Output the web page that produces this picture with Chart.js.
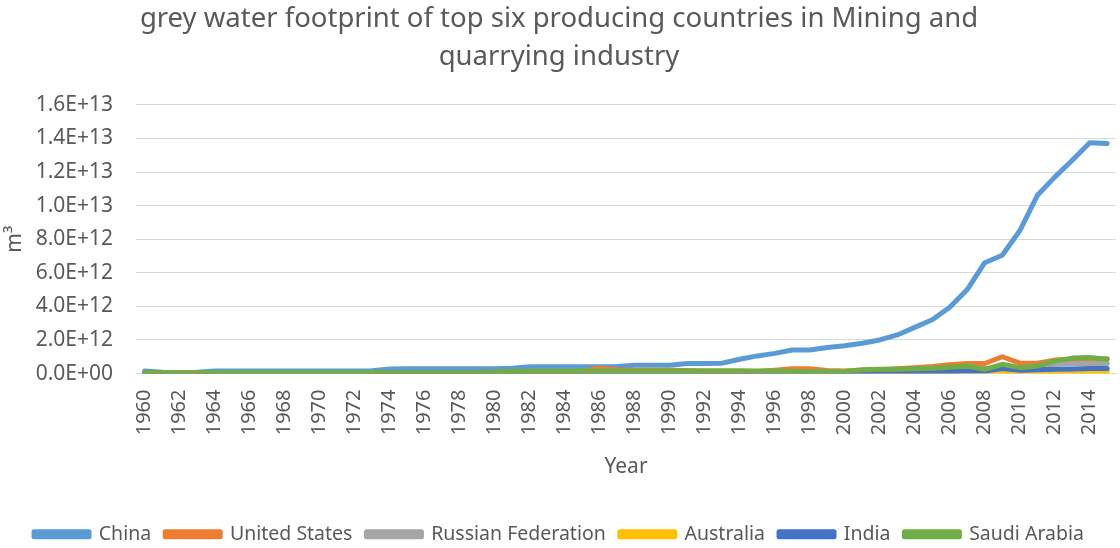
<!DOCTYPE html>
<html lang="en">
<head>
    <meta charset="UTF-8">
    <title>Grey water footprint - Mining and quarrying</title>
    <style>
        body {
            margin: 0;
            background: #fff;
        }
        #wrap {
            width: 1120px;
            height: 548px;
            position: relative;
        }
    </style>
</head>
<body>
    <div id="wrap">
        <canvas id="waterChart"></canvas>
    </div>
    <script src="https://cdn.jsdelivr.net/npm/chart.js"></script>
    <script>
        // years 1960 - 2015
        const years = [
            '1960','1961','1962','1963','1964','1965','1966','1967','1968','1969',
            '1970','1971','1972','1973','1974','1975','1976','1977','1978','1979',
            '1980','1981','1982','1983','1984','1985','1986','1987','1988','1989',
            '1990','1991','1992','1993','1994','1995','1996','1997','1998','1999',
            '2000','2001','2002','2003','2004','2005','2006','2007','2008','2009',
            '2010','2011','2012','2013','2014','2015'
        ];

        // grey water footprint, m3
        const china = [
            0.15e12, 0.08e12, 0.05e12, 0.08e12, 0.15e12, 0.15e12, 0.15e12, 0.15e12, 0.15e12, 0.15e12,
            0.15e12, 0.15e12, 0.15e12, 0.17e12, 0.27e12, 0.28e12, 0.28e12, 0.28e12, 0.28e12, 0.28e12,
            0.28e12, 0.32e12, 0.4e12, 0.4e12, 0.4e12, 0.4e12, 0.4e12, 0.42e12, 0.5e12, 0.5e12,
            0.5e12, 0.6e12, 0.6e12, 0.62e12, 0.85e12, 1.05e12, 1.2e12, 1.4e12, 1.4e12, 1.55e12,
            1.65e12, 1.8e12, 2.0e12, 2.3e12, 2.75e12, 3.2e12, 3.95e12, 5.0e12, 6.6e12, 7.05e12,
            8.5e12, 10.6e12, 11.7e12, 12.7e12, 13.75e12, 13.7e12
        ];
        const unitedStates = [
            0.05e12, 0.05e12, 0.05e12, 0.05e12, 0.05e12, 0.05e12, 0.05e12, 0.05e12, 0.05e12, 0.05e12,
            0.05e12, 0.05e12, 0.05e12, 0.05e12, 0.05e12, 0.05e12, 0.05e12, 0.05e12, 0.05e12, 0.05e12,
            0.08e12, 0.1e12, 0.1e12, 0.1e12, 0.12e12, 0.15e12, 0.32e12, 0.22e12, 0.2e12, 0.2e12,
            0.2e12, 0.18e12, 0.15e12, 0.15e12, 0.15e12, 0.12e12, 0.2e12, 0.28e12, 0.28e12, 0.18e12,
            0.15e12, 0.2e12, 0.22e12, 0.28e12, 0.35e12, 0.42e12, 0.52e12, 0.6e12, 0.6e12, 1.0e12,
            0.62e12, 0.62e12, 0.8e12, 0.85e12, 0.85e12, 0.88e12
        ];
        const russia = [
            0.03e12, 0.03e12, 0.03e12, 0.03e12, 0.03e12, 0.03e12, 0.03e12, 0.03e12, 0.03e12, 0.03e12,
            0.03e12, 0.03e12, 0.03e12, 0.03e12, 0.03e12, 0.03e12, 0.03e12, 0.03e12, 0.03e12, 0.03e12,
            0.03e12, 0.03e12, 0.03e12, 0.03e12, 0.03e12, 0.03e12, 0.03e12, 0.03e12, 0.03e12, 0.03e12,
            0.03e12, 0.03e12, 0.1e12, 0.1e12, 0.1e12, 0.1e12, 0.1e12, 0.1e12, 0.1e12, 0.1e12,
            0.1e12, 0.1e12, 0.1e12, 0.12e12, 0.15e12, 0.18e12, 0.22e12, 0.3e12, 0.3e12, 0.35e12,
            0.35e12, 0.45e12, 0.55e12, 0.6e12, 0.6e12, 0.6e12
        ];
        const australia = [
            0.02e12, 0.02e12, 0.02e12, 0.02e12, 0.02e12, 0.02e12, 0.02e12, 0.02e12, 0.02e12, 0.02e12,
            0.02e12, 0.02e12, 0.02e12, 0.02e12, 0.02e12, 0.02e12, 0.02e12, 0.02e12, 0.02e12, 0.02e12,
            0.02e12, 0.02e12, 0.02e12, 0.02e12, 0.02e12, 0.02e12, 0.02e12, 0.02e12, 0.02e12, 0.02e12,
            0.02e12, 0.02e12, 0.02e12, 0.02e12, 0.02e12, 0.02e12, 0.02e12, 0.02e12, 0.02e12, 0.02e12,
            0.02e12, 0.02e12, 0.02e12, 0.02e12, 0.02e12, 0.02e12, 0.03e12, 0.04e12, 0.04e12, 0.05e12,
            0.05e12, 0.05e12, 0.06e12, 0.07e12, 0.08e12, 0.1e12
        ];
        const india = [
            0.02e12, 0.02e12, 0.02e12, 0.02e12, 0.02e12, 0.02e12, 0.02e12, 0.02e12, 0.02e12, 0.02e12,
            0.02e12, 0.02e12, 0.02e12, 0.02e12, 0.02e12, 0.02e12, 0.02e12, 0.02e12, 0.02e12, 0.02e12,
            0.02e12, 0.02e12, 0.02e12, 0.02e12, 0.02e12, 0.02e12, 0.02e12, 0.02e12, 0.02e12, 0.02e12,
            0.02e12, 0.02e12, 0.02e12, 0.02e12, 0.02e12, 0.02e12, 0.02e12, 0.02e12, 0.02e12, 0.02e12,
            0.03e12, 0.04e12, 0.05e12, 0.06e12, 0.08e12, 0.1e12, 0.12e12, 0.15e12, 0.15e12, 0.3e12,
            0.2e12, 0.22e12, 0.25e12, 0.27e12, 0.3e12, 0.3e12
        ];
        const saudiArabia = [
            0.06e12, 0.05e12, 0.05e12, 0.05e12, 0.06e12, 0.06e12, 0.06e12, 0.06e12, 0.06e12, 0.06e12,
            0.06e12, 0.06e12, 0.06e12, 0.06e12, 0.06e12, 0.06e12, 0.06e12, 0.06e12, 0.06e12, 0.06e12,
            0.08e12, 0.12e12, 0.15e12, 0.15e12, 0.15e12, 0.15e12, 0.15e12, 0.15e12, 0.15e12, 0.15e12,
            0.15e12, 0.15e12, 0.15e12, 0.15e12, 0.15e12, 0.15e12, 0.15e12, 0.12e12, 0.1e12, 0.1e12,
            0.12e12, 0.22e12, 0.25e12, 0.25e12, 0.28e12, 0.32e12, 0.38e12, 0.45e12, 0.25e12, 0.55e12,
            0.35e12, 0.45e12, 0.75e12, 0.92e12, 0.95e12, 0.85e12
        ];

        const seriesNames = ['China', 'United States', 'Russian Federation', 'Australia', 'India', 'Saudi Arabia'];
        const seriesColors = ['#5B9BD5', '#ED7D31', '#A5A5A5', '#FFC000', '#4472C4', '#70AD47'];
        const seriesData = [china, unitedStates, russia, australia, india, saudiArabia];

        const yMax = 1.6e13;
        const yStep = 2e12;

        const textColor = '#595959';
        const fontFamily = '"Noto Sans", "DejaVu Sans", sans-serif';

        // 1.4E+13 style labels
        function sciLabel(v) {
            if (v === 0) return '0.0E+00';
            const e = Math.floor(Math.log10(Math.abs(v)));
            const m = (v / Math.pow(10, e)).toFixed(1);
            return m + 'E' + (e < 0 ? '-' : '+') + String(Math.abs(e)).padStart(2, '0');
        }

        const datasets = seriesNames.map((name, i) => ({
            label: name,
            data: seriesData[i],
            borderColor: seriesColors[i],
            backgroundColor: seriesColors[i],
            borderWidth: 5,
            pointRadius: 0,
            pointHoverRadius: 0,
            tension: 0,
            borderJoinStyle: 'round',
            borderCapStyle: 'round',
            fill: false,
            order: seriesNames.length - 1 - i
        }));

        new Chart(document.getElementById('waterChart'), {
            type: 'line',
            data: {
                labels: years,
                datasets: datasets
            },
            options: {
                responsive: true,
                maintainAspectRatio: false,
                animation: false,
                layout: {
                    padding: { left: 2, right: 4, top: 0, bottom: -6 }
                },
                plugins: {
                    title: {
                        display: true,
                        text: ['grey water footprint of top six producing countries in Mining and', 'quarrying industry'],
                        color: textColor,
                        font: { family: fontFamily, size: 27.5, weight: 'normal', lineHeight: 1.38 },
                        padding: { top: 0, bottom: 29 }
                    },
                    legend: {
                        position: 'bottom',
                        labels: {
                            color: textColor,
                            font: { family: fontFamily, size: 19.5 },
                            boxWidth: 55,
                            boxHeight: 5,
                            padding: 14,
                            sort: (a, b) => a.datasetIndex - b.datasetIndex
                        }
                    },
                    tooltip: { enabled: false }
                },
                scales: {
                    x: {
                        offset: true,
                        grid: { display: false, drawTicks: false },
                        border: { display: true, color: '#D9D9D9', width: 1 },
                        afterFit: (scale) => {
                            scale.paddingLeft = 0;
                            scale.paddingRight = 0;
                        },
                        ticks: {
                            color: textColor,
                            font: { family: fontFamily, size: 20 },
                            autoSkip: false,
                            minRotation: 90,
                            maxRotation: 90,
                            padding: 16,
                            callback: function (value, index) {
                                return index % 2 === 0 ? this.getLabelForValue(value) : '';
                            }
                        },
                        title: {
                            display: true,
                            text: 'Year',
                            color: textColor,
                            font: { family: fontFamily, size: 21 },
                            padding: { top: 3, bottom: 31 }
                        }
                    },
                    y: {
                        min: 0,
                        max: yMax,
                        grid: { color: '#D9D9D9', lineWidth: 1, drawTicks: false },
                        border: { display: false },
                        afterFit: (scale) => {
                            scale.width = 134;
                        },
                        ticks: {
                            stepSize: yStep,
                            color: textColor,
                            font: { family: fontFamily, size: 21 },
                            padding: 23,
                            callback: (v) => sciLabel(v)
                        },
                        title: {
                            display: true,
                            text: 'm³',
                            color: textColor,
                            font: { family: fontFamily, size: 21 },
                            padding: { top: 0, bottom: 10 }
                        }
                    }
                }
            }
        });
    </script>
</body>
</html>
